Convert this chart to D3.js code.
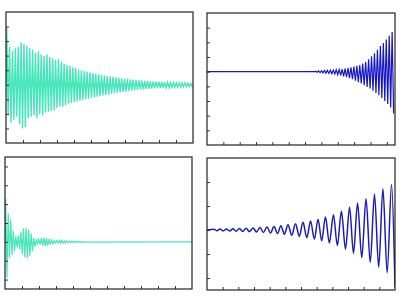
<!DOCTYPE html>
<html><head><meta charset="utf-8">
<script src="https://cdn.jsdelivr.net/npm/d3@7"></script>
<style>html,body{margin:0;padding:0;background:#fff;}svg{display:block;}</style>
</head><body>
<svg id="c" width="403" height="300"></svg>
<script>
// ---- data (peak values per cycle) ----
const tlStart = 0, tlPeriod = 0.169;
const tlHigh = [3.9,2.6,2.3,2.5,2.6,2.9,2.8,2.7,2.5,2.4,2.2,2.3,2.1,2.0,2.1,1.9,1.8,1.7,1.75,1.6,1.45,1.35,1.3,1.2,1.15,1.05,1.0,0.95,0.9,0.85,0.8,0.75,0.72,0.68,0.64,0.6,0.57,0.54,0.5,0.47,0.45,0.42,0.4,0.37,0.35,0.33,0.31,0.29,0.27,0.26,0.24,0.23,0.21,0.2,0.19,0.18,0.17,0.16,0.15,0.14,0.13,0.12,0.12,0.11,0.1];
const tlLow = [-2.1,-2.6,-2.4,-2.2,-2.7,-3.0,-2.9,-2.3,-2.2,-2.1,-2.3,-2.0,-2.1,-1.9,-1.85,-1.8,-1.75,-1.6,-1.5,-1.5,-1.4,-1.3,-1.25,-1.2,-1.15,-1.1,-1.05,-1.0,-0.95,-0.9,-0.85,-0.82,-0.78,-0.74,-0.7,-0.66,-0.62,-0.58,-0.55,-0.52,-0.49,-0.46,-0.43,-0.4,-0.38,-0.36,-0.34,-0.32,-0.3,-0.28,-0.26,-0.25,-0.23,-0.22,-0.21,-0.2,-0.19,-0.18,-0.17,-0.16,-0.15,-0.14,-0.13,-0.12,-0.11];

const trStart = 6.6, trPeriod = 0.18;
const trHigh = [0.03,0.05,0.06,0.08,0.09,0.1,0.11,0.13,0.15,0.18,0.21,0.25,0.3,0.35,0.4,0.45,0.55,0.65,0.85,1.05,1.25,1.5,1.75,1.95,2.2,2.45,2.7];
const trLow = [-0.04,-0.06,-0.08,-0.1,-0.12,-0.14,-0.16,-0.2,-0.26,-0.32,-0.38,-0.44,-0.52,-0.62,-0.72,-0.8,-0.92,-1.05,-1.15,-1.3,-1.45,-1.6,-1.8,-2.0,-2.2,-2.45,-2.85];

const blStart = 0, blPeriod = 0.15;
const blHigh = [2.3,1.5,1.2,0.6,0.3,0.35,0.55,0.72,0.75,0.65,0.45,0.2,0.1,0.15,0.2,0.22,0.2,0.15,0.1,0.06,0.07,0.08,0.07,0.06,0.05,0.04,0.04,0.03,0.03,0.02,0.01];
const blLow = [-1.9,-0.85,-0.7,-0.5,-0.3,-0.4,-0.65,-0.82,-0.85,-0.75,-0.5,-0.25,-0.1,-0.15,-0.2,-0.23,-0.2,-0.15,-0.1,-0.06,-0.07,-0.08,-0.07,-0.06,-0.05,-0.04,-0.04,-0.03,-0.03,-0.02,-0.01];

// bottom-right: crest / trough times and values (slow chirp)
const brTopT = [0.45,0.83,1.24,1.66,2.07,2.49,2.94,3.38,3.83,4.28,4.72,5.17,5.65,6.13,6.61,7.09,7.56,8.07,8.58,9.10,9.61,10.15,10.69,11.23,11.78];
const brTop  = [0.03,0.04,0.04,0.05,0.06,0.07,0.08,0.1,0.12,0.15,0.18,0.22,0.26,0.32,0.38,0.45,0.54,0.64,0.78,0.95,1.12,1.3,1.5,1.72,1.9];
const brLowT = [0.64,1.03,1.45,1.86,2.28,2.71,3.16,3.6,4.05,4.5,4.94,5.41,5.89,6.37,6.85,7.32,7.81,8.32,8.84,9.35,9.88,10.42,10.96,11.5,12.0];
const brLow  = [-0.03,-0.04,-0.04,-0.05,-0.06,-0.07,-0.08,-0.1,-0.12,-0.15,-0.18,-0.22,-0.26,-0.32,-0.38,-0.45,-0.54,-0.64,-0.8,-0.97,-1.15,-1.35,-1.55,-1.78,-2.4];

const xTicksA = [1,2,3,4,5,6,7,8,9,10];
const xTicksB = [1,2,3,4,5,6,7,8,9,10,11];
const yTicksTL = [-3,-2,-1,0,1,2,3,4];
const yTicksTR = [-4,-3,-2,-1,0,1,2,3];
const yTicksBL = [-2,-1,0,1,2,3,4];
const yTicksBR = [-2,-1,0,1,2];

// ---- build series from peaks ----
function series(t0, period, highs, lows, tBefore, tAfter) {
  const pts = [];
  if (tBefore !== null) pts.push([tBefore, 0]);
  pts.push([t0, 0]);
  highs.forEach((h, i) => {
    pts.push([t0 + period * (i + 0.25), h]);
    pts.push([t0 + period * (i + 0.75), lows[i]]);
  });
  if (tAfter !== null) pts.push([tAfter, 0]);
  return pts;
}
function seriesT(topT, top, lowT, low) {
  const pts = [[0, 0]];
  top.forEach((v, i) => { pts.push([topT[i], v]); pts.push([lowT[i], low[i]]); });
  return pts;
}

const TEAL = "#46e6bb", BLUE = "#1616c4", BLUE2 = "#1c1cb4";
const panels = [
  {x0:6, x1:193, y0:12, y1:143, xd:[0,11], yd:[-4,5], xt:xTicksA, yt:yTicksTL,
   data: series(tlStart, tlPeriod, tlHigh, tlLow, null, 11.5), color:TEAL, w:1.4, curve:d3.curveLinear},
  {x0:207, x1:395, y0:13, y1:145, xd:[0,11.5], yd:[-5,4], xt:xTicksB, yt:yTicksTR,
   data: series(trStart, trPeriod, trHigh, trLow, 0, null), color:BLUE, w:1.2, curve:d3.curveLinear},
  {x0:5, x1:192, y0:157, y1:289, xd:[0,11], yd:[-2.5,4.5], xt:xTicksA, yt:yTicksBL,
   data: series(blStart, blPeriod, blHigh, blLow, null, 11.5), color:TEAL, w:1.2, curve:d3.curveLinear},
  {x0:207, x1:395, y0:158, y1:290, xd:[0,12], yd:[-2.5,3], xt:xTicksB, yt:yTicksBR,
   data: seriesT(brTopT, brTop, brLowT, brLow), color:BLUE2, w:1.5, curve:d3.curveMonotoneX},
];

const svg = d3.select("#c");
panels.forEach((p, k) => {
  const x = d3.scaleLinear().domain(p.xd).range([p.x0, p.x1]);
  const y = d3.scaleLinear().domain(p.yd).range([p.y1, p.y0]);
  const id = "clip" + k;
  svg.append("clipPath").attr("id", id).append("rect")
    .attr("x", p.x0).attr("y", p.y0).attr("width", p.x1 - p.x0).attr("height", p.y1 - p.y0);
  svg.append("path").datum(p.data)
    .attr("clip-path", `url(#${id})`)
    .attr("fill", "none").attr("stroke", p.color).attr("stroke-width", p.w)
    .attr("d", d3.line().x(d => x(d[0])).y(d => y(d[1])).curve(p.curve));
  const gx = svg.append("g").attr("transform", `translate(0,${p.y1})`)
    .call(d3.axisBottom(x).tickValues(p.xt).tickSize(-3).tickFormat(""));
  const gy = svg.append("g").attr("transform", `translate(${p.x0},0)`)
    .call(d3.axisLeft(y).tickValues(p.yt).tickSize(-3).tickFormat(""));
  [gx, gy].forEach(g => { g.select(".domain").remove(); g.selectAll("line").attr("stroke", "#333"); });
  svg.append("rect").attr("x", p.x0).attr("y", p.y0)
    .attr("width", p.x1 - p.x0).attr("height", p.y1 - p.y0)
    .attr("fill", "none").attr("stroke", "#222").attr("stroke-width", 1.2);
});
</script>
</body></html>
